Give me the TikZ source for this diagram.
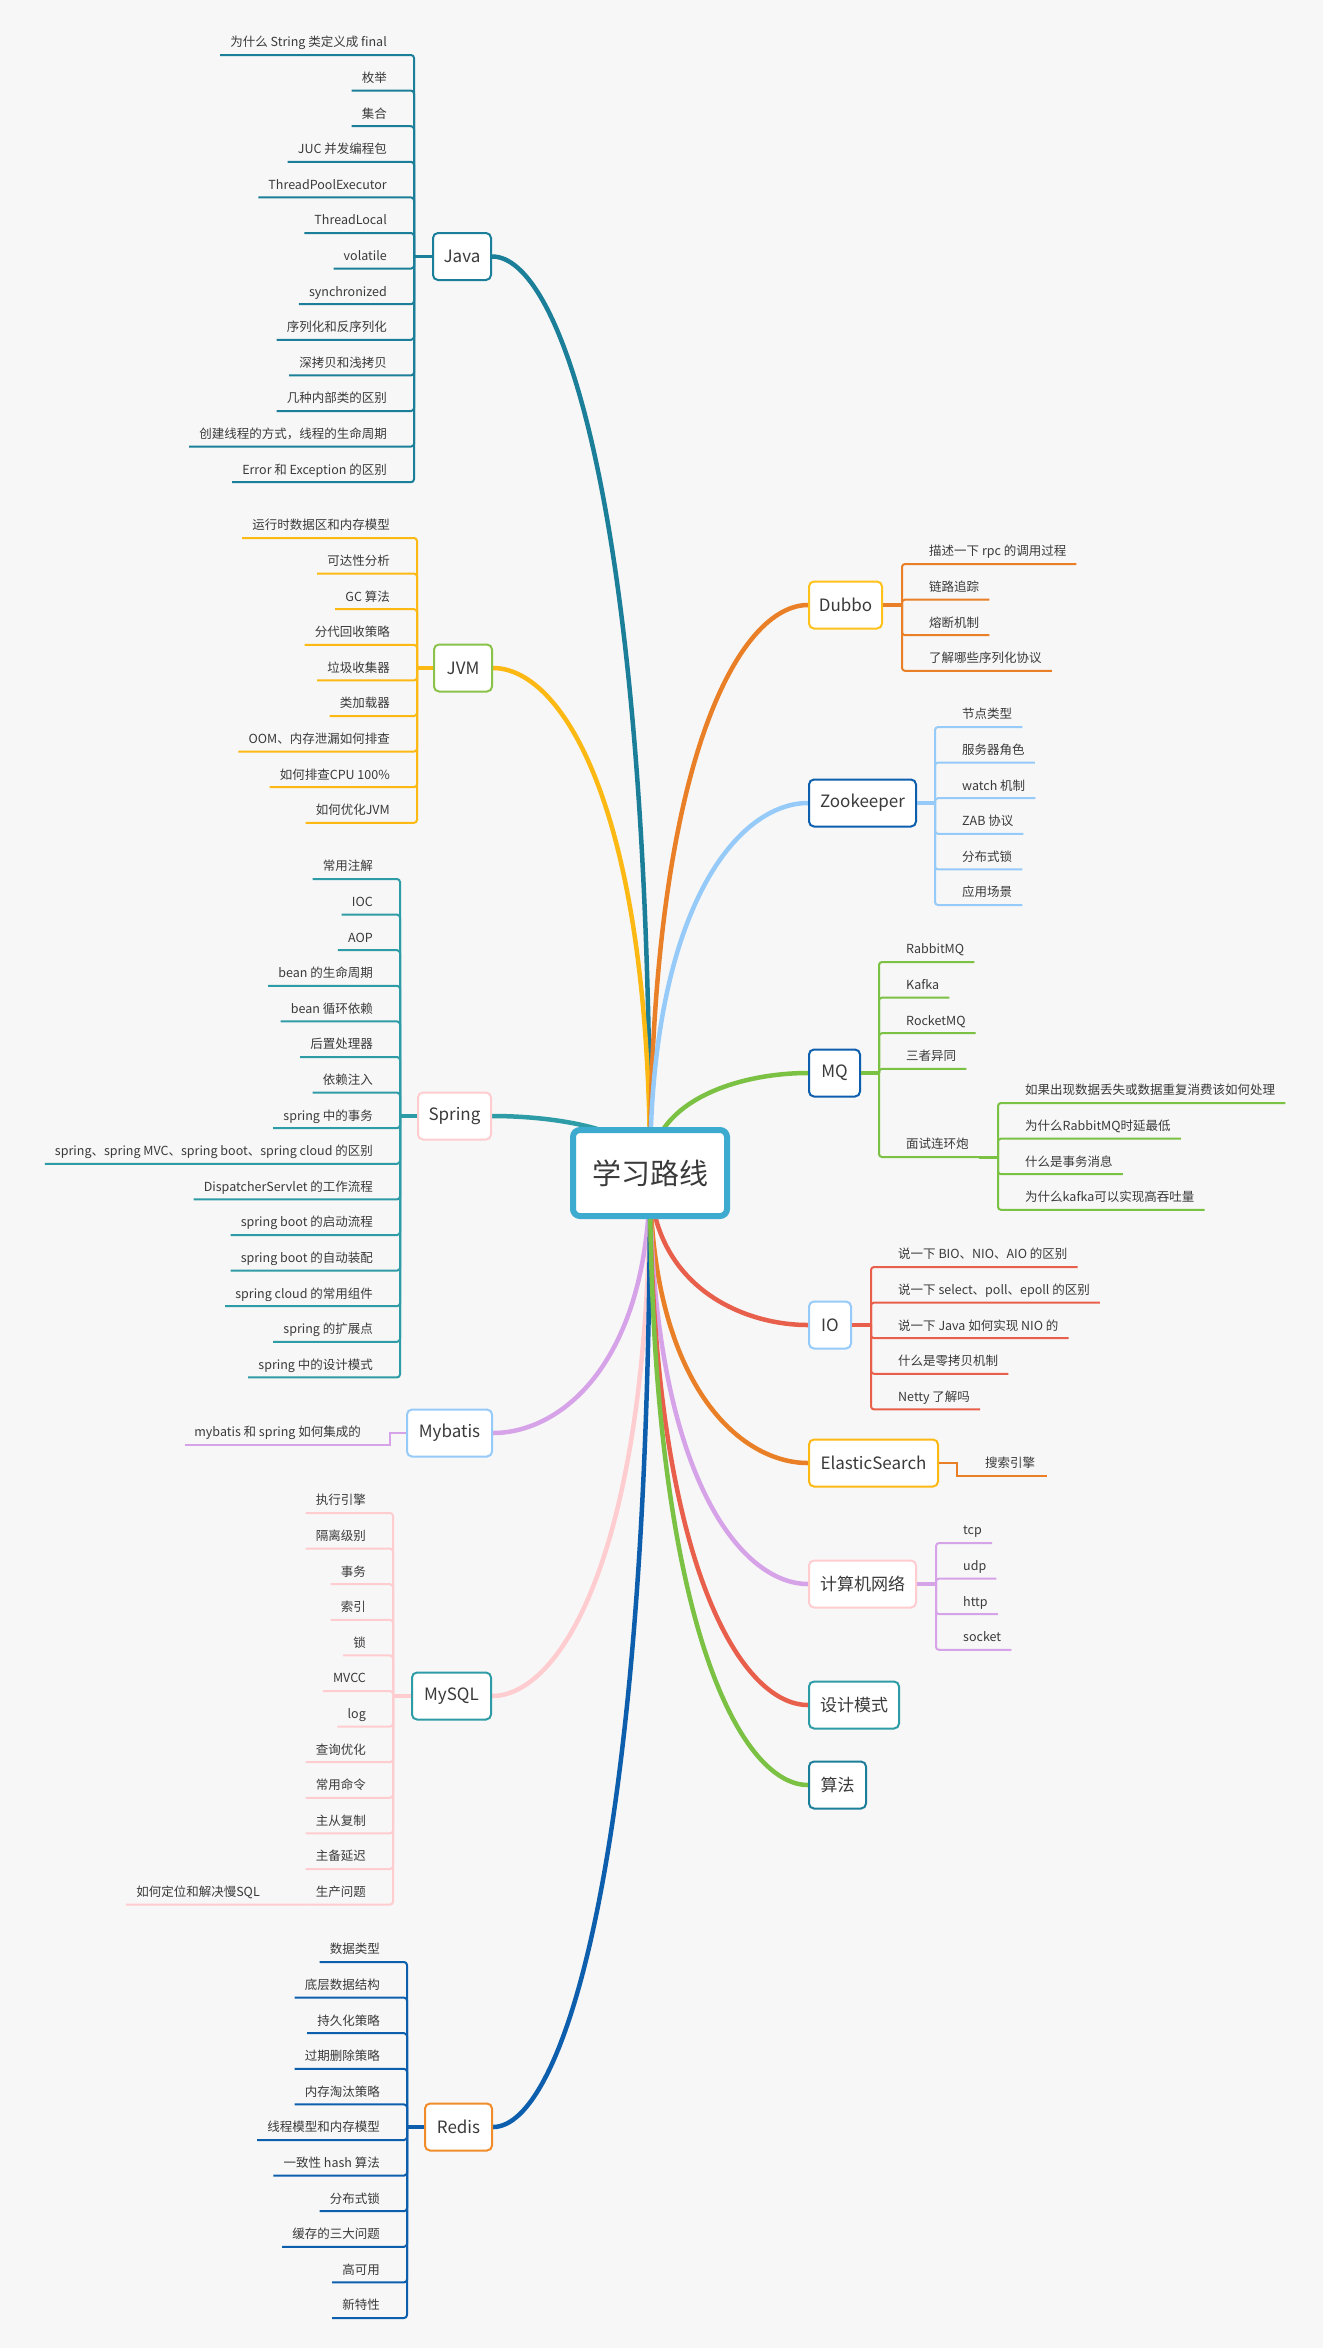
\documentclass[tikz,border=0pt]{standalone}
\usepackage{fontspec}
\setmainfont{Noto Sans CJK SC}
\pgfdeclarelayer{bg}
\pgfsetlayers{bg,main}
\definecolor{bgC}{HTML}{F7F7F7}
\definecolor{txtC}{HTML}{3A3A3A}
\definecolor{javaC}{HTML}{1B7F99}
\definecolor{jvmC}{HTML}{FDB913}
\definecolor{springC}{HTML}{2E9CA6}
\definecolor{mybatisC}{HTML}{D7A3E8}
\definecolor{mysqlC}{HTML}{FFCCD0}
\definecolor{redisC}{HTML}{0D5FAE}
\definecolor{dubboC}{HTML}{E97F26}
\definecolor{zkC}{HTML}{96CBF9}
\definecolor{mqC}{HTML}{7BC143}
\definecolor{ioC}{HTML}{E8604C}
\definecolor{greenBd}{HTML}{8BC34A}
\definecolor{orangeBd}{HTML}{F08C2A}
\definecolor{amberBd}{HTML}{FFC21A}
\definecolor{rootC}{HTML}{3DAAD0}
\tikzset{
  leaf/.style={inner sep=0pt, text height=10pt, text depth=8pt, text=txtC, font=\fontsize{12.5}{15}\selectfont},
  topic/.style={rounded corners=5pt, line width=2pt, fill=white, minimum height=47pt, inner xsep=8pt, text=txtC, font=\fontsize{17}{20}\selectfont},
  hub/.style={line width=3.5pt},
  brk/.style={line width=2pt, rounded corners=3pt},
  branchline/.style={line width=4.5pt},
}
% left items: #1 prefix, #2 colour, #3 bracket x, #4 first y, #5 list
\newcommand\LItems[5]{%
  \foreach \itm [count=\i] in {#5} {
    \pgfmathsetmacro\yy{#4+(\i-1)*35.6}
    \node[leaf,anchor=south east] (#1-\i) at (#3-27,\yy) {\itm};
    \draw[brk,#2] (#1J) |- ([xshift=-10pt]#1-\i.south west);
  }%
}
\newcommand\RItems[5]{%
  \foreach \itm [count=\i] in {#5} {
    \pgfmathsetmacro\yy{#4+(\i-1)*35.6}
    \node[leaf,anchor=south west] (#1-\i) at (#3+27,\yy) {\itm};
    \draw[brk,#2] (#1J) |- ([xshift=10pt]#1-\i.south east);
  }%
}
% #1 box name, #2 colour, #3 bracket x, #4 junction y, #5 first y, #6 list
\newcommand\LBranch[6]{%
  \coordinate (#1J) at (#3,#4);
  \draw[hub,#2] (#1.west) -- (#1J);
  \LItems{#1}{#2}{#3}{#5}{#6}%
}
\newcommand\RBranch[6]{%
  \coordinate (#1J) at (#3,#4);
  \draw[hub,#2] (#1.east) -- (#1J);
  \RItems{#1}{#2}{#3}{#5}{#6}%
}
\begin{document}
\begin{tikzpicture}[x=1pt,y=-1pt]
\useasboundingbox (0,0) rectangle (1323,2348);
\begin{pgfonlayer}{bg}
\fill[bgC] (0,0) rectangle (1323,2348);
\end{pgfonlayer}

% root
\node[rounded corners=7pt, line width=6pt, draw=rootC, fill=white, minimum width=154pt, minimum height=86pt, text=txtC, font=\fontsize{29}{34}\selectfont] (root) at (650,1173) {学习路线};

% left topics
\node[topic,draw=javaC,minimum width=58pt] (java) at (462,256.5) {Java};
\node[topic,draw=greenBd,minimum width=58pt] (jvm) at (463,668) {JVM};
\node[topic,draw=mysqlC,minimum width=73pt] (spring) at (454.5,1116) {Spring};
\node[topic,draw=zkC,minimum width=85pt] (mybatis) at (449.5,1433) {Mybatis};
\node[topic,draw=springC,minimum width=79pt] (mysql) at (451.5,1696) {MySQL};
\node[topic,draw=orangeBd,minimum width=67pt] (redis) at (458.5,2127) {Redis};

% right topics
\node[topic,draw=amberBd,minimum width=73pt] (dubbo) at (845.5,605) {Dubbo};
\node[topic,draw=redisC,minimum width=107pt] (zk) at (862.5,803) {Zookeeper};
\node[topic,draw=redisC,minimum width=51pt] (mq) at (834.5,1073) {MQ};
\node[topic,draw=zkC,minimum width=42pt] (io) at (830,1325) {IO};
\node[topic,draw=jvmC,minimum width=129pt] (es) at (873.5,1463) {ElasticSearch};
\node[topic,draw=mysqlC,minimum width=107pt] (net) at (862.5,1584) {计算机网络};
\node[topic,draw=springC,minimum width=90pt] (dp) at (854,1705) {设计模式};
\node[topic,draw=javaC,minimum width=57pt] (alg) at (837.5,1785) {算法};

% curves
\begin{pgfonlayer}{bg}
\draw[branchline,javaC] (java.east) .. controls (560,256) and (650,504) .. (root.center);
\draw[branchline,jvmC] (jvm.east) .. controls (561,668) and (650,804) .. (root.center);
\draw[branchline,springC] (spring.east) .. controls (560,1116) and (650,1131) .. (root.center);
\draw[branchline,mybatisC] (mybatis.east) .. controls (561,1433) and (650,1363) .. (root.center);
\draw[branchline,mysqlC] (mysql.east) .. controls (560,1696) and (650,1555) .. (root.center);
\draw[branchline,redisC] (redis.east) .. controls (561,2127) and (650,1869) .. (root.center);
\draw[branchline,dubboC] (dubbo.west) .. controls (740,605) and (650,758) .. (root.center);
\draw[branchline,zkC] (zk.west) .. controls (740,803) and (650,903) .. (root.center);
\draw[branchline,mqC] (mq.west) .. controls (740,1073) and (650,1100) .. (root.center);
\draw[branchline,ioC] (io.west) .. controls (740,1325) and (650,1284) .. (root.center);
\draw[branchline,dubboC] (es.west) .. controls (740,1463) and (650,1385) .. (root.center);
\draw[branchline,mybatisC] (net.west) .. controls (740,1584) and (650,1473) .. (root.center);
\draw[branchline,ioC] (dp.west) .. controls (740,1705) and (650,1561) .. (root.center);
\draw[branchline,mqC] (alg.west) .. controls (740,1785) and (650,1620) .. (root.center);
\end{pgfonlayer}

% Java
\LBranch{java}{javaC}{414}{256.5}{55}{{为什么 String 类定义成 final},{枚举},{集合},{JUC 并发编程包},{ThreadPoolExecutor},{ThreadLocal},{volatile},{synchronized},{序列化和反序列化},{深拷贝和浅拷贝},{几种内部类的区别},{创建线程的方式，线程的生命周期},{Error 和 Exception 的区别}}

% JVM
\LBranch{jvm}{jvmC}{417}{668}{538}{{运行时数据区和内存模型},{可达性分析},{GC 算法},{分代回收策略},{垃圾收集器},{类加载器},{OOM、内存泄漏如何排查},{如何排查CPU 100\%},{如何优化JVM}}

% Spring
\LBranch{spring}{springC}{400}{1116}{879}{{常用注解},{IOC},{AOP},{bean 的生命周期},{bean 循环依赖},{后置处理器},{依赖注入},{spring 中的事务},{spring、spring MVC、spring boot、spring cloud 的区别},{DispatcherServlet 的工作流程},{spring boot 的启动流程},{spring boot 的自动装配},{spring cloud 的常用组件},{spring 的扩展点},{spring 中的设计模式}}

% Mybatis
\coordinate (mybatisJ) at (390,1433);
\node[leaf,anchor=south east] (mybatis-1) at (361,1445) {mybatis 和 spring 如何集成的};
\draw[mybatisC,line width=2.5pt] (mybatis.west) -- (mybatisJ) |- ([xshift=-9pt]mybatis-1.south west);

% MySQL
\LBranch{mysql}{mysqlC}{393}{1696}{1513}{{执行引擎},{隔离级别},{事务},{索引},{锁},{MVCC},{log},{查询优化},{常用命令},{主从复制},{主备延迟},{生产问题}}
\node[leaf,anchor=south east] (mysqlc) at (260,1904.6) {如何定位和解决慢SQL};
\draw[brk,mysqlC] ([xshift=-10pt]mysql-12.south west) -- ([xshift=-10pt]mysqlc.south west);

% Redis
\LBranch{redis}{redisC}{407}{2127}{1962}{{数据类型},{底层数据结构},{持久化策略},{过期删除策略},{内存淘汰策略},{线程模型和内存模型},{一致性 hash 算法},{分布式锁},{缓存的三大问题},{高可用},{新特性}}

% Dubbo
\RBranch{dubbo}{dubboC}{902}{605}{564}{{描述一下 rpc 的调用过程},{链路追踪},{熔断机制},{了解哪些序列化协议}}

% Zookeeper
\RBranch{zk}{zkC}{935}{803}{727}{{节点类型},{服务器角色},{watch 机制},{ZAB 协议},{分布式锁},{应用场景}}

% MQ
\RBranch{mq}{mqC}{879}{1073}{962}{{RabbitMQ},{Kafka},{RocketMQ},{三者异同}}
\node[leaf,anchor=south west] (mq-5) at (906,1157) {面试连环炮};
\draw[brk,mqC] (mqJ) |- ([xshift=10pt]mq-5.south east) coordinate (mq5e);
\coordinate (mqsJ) at (998,1157);
\draw[hub,mqC,line width=3pt] (mq5e) -- (mqsJ);
\RItems{mqs}{mqC}{998}{1103}{{如果出现数据丢失或数据重复消费该如何处理},{为什么RabbitMQ时延最低},{什么是事务消息},{为什么kafka可以实现高吞吐量}}

% IO
\RBranch{io}{ioC}{871}{1325}{1267}{{说一下 BIO、NIO、AIO 的区别},{说一下 select、poll、epoll 的区别},{说一下 Java 如何实现 NIO 的},{什么是零拷贝机制},{Netty 了解吗}}

% ElasticSearch
\coordinate (esJ) at (957,1463);
\node[leaf,anchor=south west] (es-1) at (985,1476) {搜索引擎};
\draw[dubboC,line width=2.5pt] (es.east) -- (esJ) |- ([xshift=12pt]es-1.south east);

% 计算机网络
\RBranch{net}{mybatisC}{936}{1584}{1543}{{tcp},{udp},{http},{socket}}

\end{tikzpicture}
\end{document}
